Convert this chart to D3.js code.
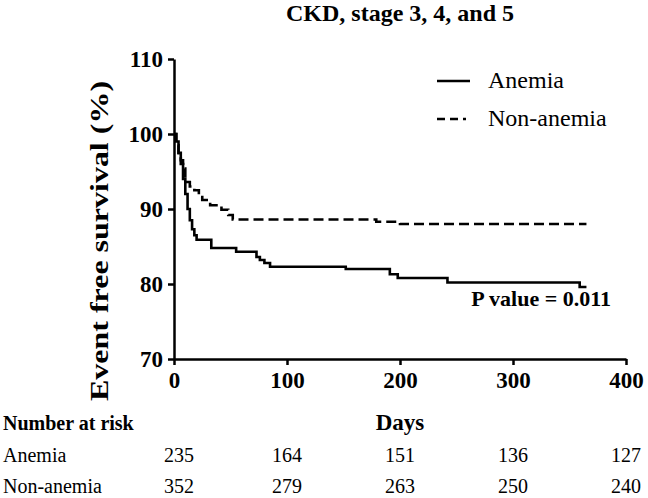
<!DOCTYPE html>
<html><head><meta charset="utf-8">
<script src="https://cdn.jsdelivr.net/npm/d3@7"></script>
<style>body{margin:0;background:#fff}svg{display:block}text{font-family:"Liberation Serif","Times New Roman",serif;fill:#000}</style>
</head><body>
<svg id="c" width="648" height="498" font-family="Liberation Serif, serif"></svg>
<script>
// ---- data ----
const anemiaDays = [0,2,4,6,8,10,12,14,16,18,20,33,55,73,76,80,85,152,191,198,242,359,365];
const anemiaSurv = [100,99,97.5,96,94,92,90,88.5,87.3,86.5,85.9,84.8,84.3,83.6,83.2,82.8,82.3,82.0,81.3,80.8,80.2,79.6,79.6];
const nonAnemiaDays = [0,2,4,6,8,10,14,18,22,25,32,42,48,52,179,200,365];
const nonAnemiaSurv = [100,98.5,97,96.5,95.4,93.6,93,92.5,91.6,91.2,90.5,89.9,89.2,88.6,88.3,88.0,88.0];
const xTicks = [0,100,200,300,400];
const yTicks = [70,80,90,100,110];
const riskGroups = ["Anemia","Non-anemia"];
const riskAnemia = [235,164,151,136,127];
const riskNonAnemia = [352,279,263,250,240];
const title = "CKD, stage 3, 4, and 5";
const pValueText = "P value = 0.011";

const svg = d3.select("#c");
const x = d3.scaleLinear().domain([0,400]).range([174,626]);
const y = d3.scaleLinear().domain([70,110]).range([359,59]);

// title
svg.append("text").attr("x",400).attr("y",21).attr("text-anchor","middle")
  .attr("font-weight","bold").attr("font-size",24).text(title);

// axes
const yAxis = svg.append("g").attr("transform","translate(174,0)")
  .call(d3.axisLeft(y).tickValues(yTicks).tickSize(6).tickSizeOuter(0).tickPadding(5));
const xAxis = svg.append("g").attr("transform","translate(0,359)")
  .call(d3.axisBottom(x).tickValues(xTicks).tickSize(6).tickSizeOuter(0).tickPadding(6));
[yAxis,xAxis].forEach(g=>{
  g.selectAll("path,line").attr("stroke","#000").attr("stroke-width",2.5);
  g.selectAll("text").attr("font-family","Liberation Serif, serif").attr("font-weight","bold")
    .attr("font-size",23).attr("fill","#000");
});
xAxis.selectAll("text").attr("dy","0.75em");

// y label (glyphs stretched along the text direction, as in the reference)
svg.append("text").attr("transform","translate(108,241) rotate(-90) scale(1.28,1)").attr("text-anchor","middle")
  .attr("font-weight","bold").attr("font-size",25)
  .text("Event free survival (%)");

// curves
const line = d3.line().x(d=>x(d[0])).y(d=>y(d[1])).curve(d3.curveStepAfter);
svg.append("path").datum(anemiaDays.map((d,i)=>[d,anemiaSurv[i]]))
  .attr("d",line).attr("fill","none").attr("stroke","#000").attr("stroke-width",2.6);
svg.append("path").datum(nonAnemiaDays.map((d,i)=>[d,nonAnemiaSurv[i]]))
  .attr("d",line).attr("fill","none").attr("stroke","#000").attr("stroke-width",2.6)
  .attr("stroke-dasharray","10,5");

// legend
svg.append("line").attr("x1",437).attr("x2",470).attr("y1",81).attr("y2",81)
  .attr("stroke","#000").attr("stroke-width",2.6);
svg.append("line").attr("x1",437).attr("x2",473).attr("y1",119).attr("y2",119)
  .attr("stroke","#000").attr("stroke-width",2.6).attr("stroke-dasharray","8,5,8,5,3,20");
svg.append("text").attr("x",488).attr("y",88).attr("font-size",24).text(riskGroups[0]);
svg.append("text").attr("x",488).attr("y",126).attr("font-size",24).text(riskGroups[1]);

// p value
svg.append("text").attr("x",611).attr("y",306).attr("text-anchor","end")
  .attr("font-weight","bold").attr("font-size",22).text(pValueText);

// x label
svg.append("text").attr("x",400).attr("y",430).attr("text-anchor","middle")
  .attr("font-weight","bold").attr("font-size",23).text("Days");

// number at risk
svg.append("text").attr("x",3).attr("y",430).attr("font-weight","bold").attr("font-size",20).text("Number at risk");
[riskAnemia,riskNonAnemia].forEach((row,r)=>{
  const yy = 462 + r*31;
  svg.append("text").attr("x",3).attr("y",yy).attr("font-size",20).text(riskGroups[r]);
  row.forEach((v,i)=>{
    svg.append("text").attr("x",x(xTicks[i])+(i===0?5:0)).attr("y",yy).attr("text-anchor","middle")
      .attr("font-size",20).text(v);
  });
});
</script>
</body></html>
